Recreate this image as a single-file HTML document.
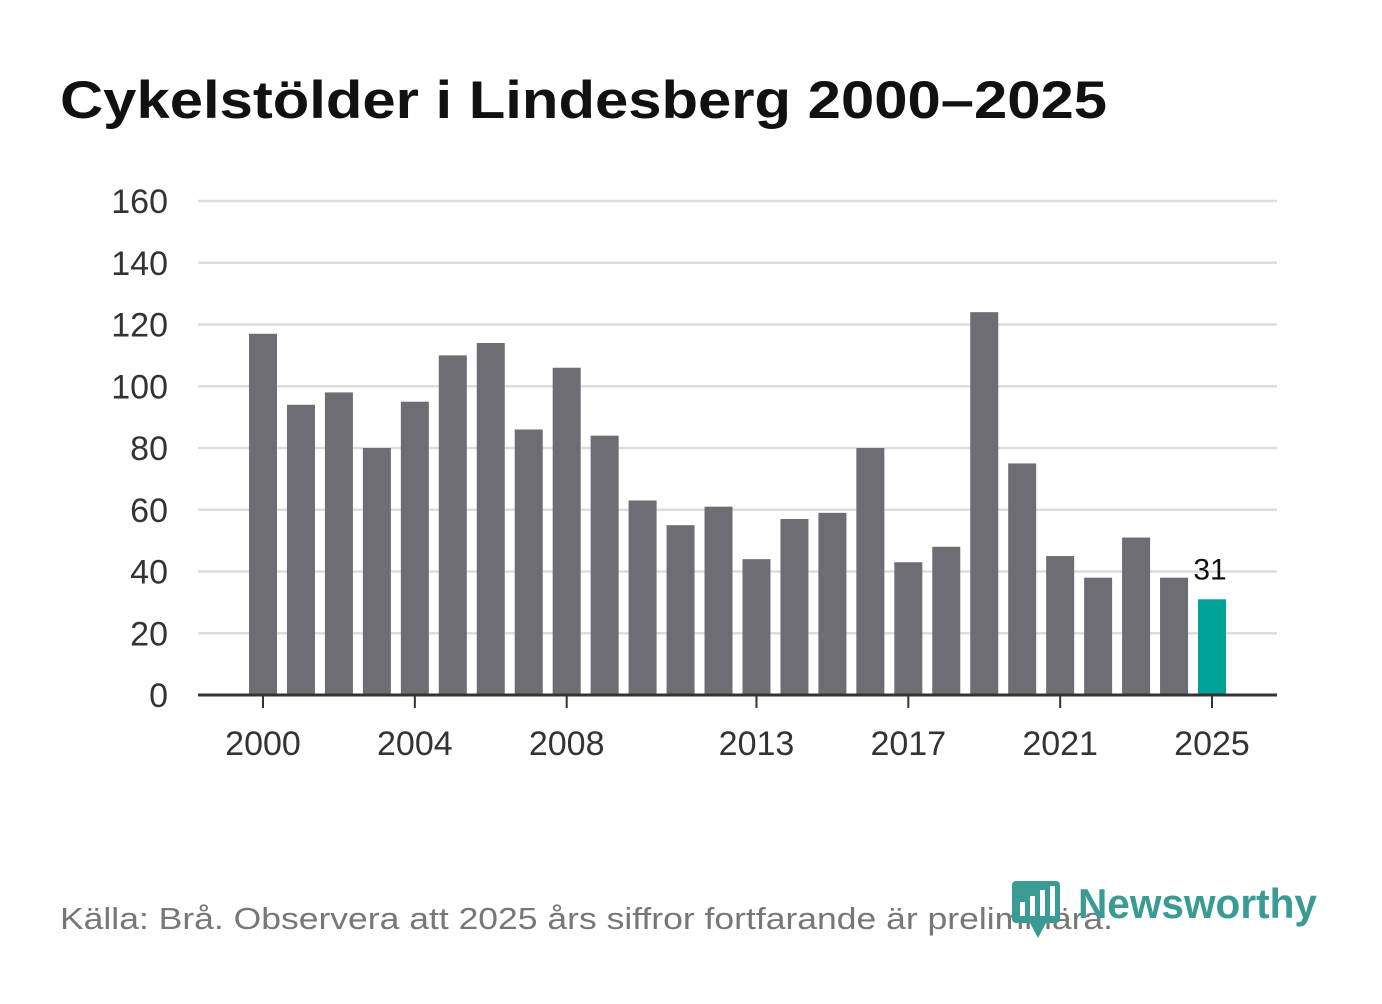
<!DOCTYPE html>
<html><head><meta charset="utf-8">
<style>
body{margin:0;background:#fff;width:1382px;height:999px;overflow:hidden;font-family:"Liberation Sans","DejaVu Sans",sans-serif;}
svg text{font-family:"Liberation Sans","DejaVu Sans",sans-serif;}
</style></head>
<body>
<svg width="1382" height="999">
<text x="60" y="118" font-size="53" font-weight="bold" fill="#111" textLength="1047" lengthAdjust="spacingAndGlyphs">Cykelstölder i Lindesberg 2000–2025</text>
<g id="grid"></g>
<g id="bars"></g>
<g id="xaxis"></g>
<text x="60" y="929" font-size="31" fill="#777" textLength="1053" lengthAdjust="spacingAndGlyphs">Källa: Brå. Observera att 2025 års siffror fortfarande är preliminära.</text>
<g>
<rect x="1012" y="881" width="48" height="42" rx="4" fill="#3a9a94"/>
<polygon points="1030,923 1046,923 1038,938" fill="#3a9a94"/>
<rect x="1020" y="902" width="5" height="14" fill="#fff"/><rect x="1030" y="896" width="5" height="20" fill="#fff"/><rect x="1040" y="890" width="5" height="26" fill="#fff"/><rect x="1050" y="886" width="5" height="30" fill="#fff"/>
<text x="1078" y="918" font-size="42" font-weight="bold" fill="#3a9a94" textLength="239" lengthAdjust="spacingAndGlyphs">Newsworthy</text>
</g>
</svg>
<script>
const years=[2000,2001,2002,2003,2004,2005,2006,2007,2008,2009,2010,2011,2012,2013,2014,2015,2016,2017,2018,2019,2020,2021,2022,2023,2024,2025];
const values=[117,94,98,80,95,110,114,86,106,84,63,55,61,44,57,59,80,43,48,124,75,45,38,51,38,31];
const yTicks=[0,20,40,60,80,100,120,140,160];
const xTicks=[2000,2004,2008,2013,2017,2021,2025];
const NS='http://www.w3.org/2000/svg';
const y=v=>695-v*(494/160);
const x=yr=>263+(yr-2000)*(949/25);
function mk(t,a,p){const e=document.createElementNS(NS,t);for(const k in a)e.setAttribute(k,a[k]);p.appendChild(e);return e;}
const grid=document.getElementById('grid'),bars=document.getElementById('bars'),xa=document.getElementById('xaxis');
yTicks.forEach(v=>{
 if(v>0){const l=mk('line',{x1:198,x2:1277,y1:y(v),y2:y(v),stroke:'#dddddd','stroke-width':2.5},grid);
 
 }
 const t=mk('text',{x:168,y:y(v)+12,'font-size':34,'text-anchor':'end',fill:'#333'},grid);t.textContent=v;
 
 
});
years.forEach((yr,i)=>{
 const last=i===years.length-1;
 const r=mk('rect',{x:x(yr)-14,y:y(values[i]),width:28,height:695-y(values[i]),fill:last?'#00a39a':'#6e6d73'},bars);
 
 
 if(last){const t=mk('text',{x:x(yr)-2,y:y(values[i])-20,'font-size':30,'text-anchor':'middle',fill:'#111'},bars);t.textContent=values[i];
 
 }
});
const ax=mk('line',{x1:198,x2:1277,y1:695,y2:695,stroke:'#333','stroke-width':3},xa);


xTicks.forEach(yr=>{
 mk('line',{x1:x(yr),x2:x(yr),y1:695,y2:708,stroke:'#333','stroke-width':2},xa);
 const t=mk('text',{x:x(yr),y:755,'font-size':34,'text-anchor':'middle',fill:'#333'},xa);t.textContent=yr;
 
 
});
</script>
</body></html>
